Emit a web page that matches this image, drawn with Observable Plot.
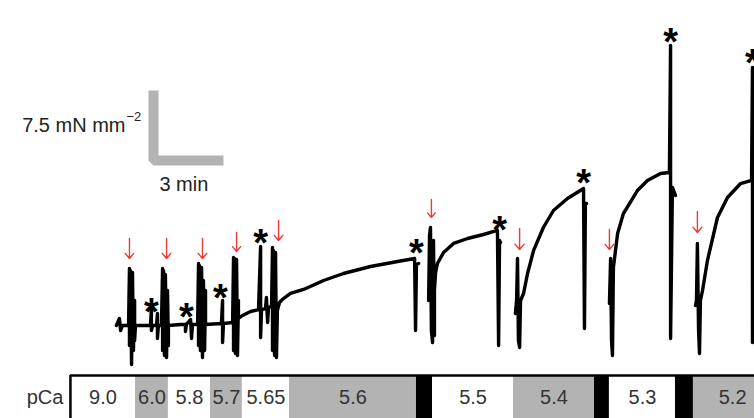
<!DOCTYPE html>
<html>
<head>
<meta charset="utf-8">
<script src="https://cdn.jsdelivr.net/npm/d3@7"></script>
<script src="https://cdn.jsdelivr.net/npm/@observablehq/plot@0.6"></script>
<style>
  html, body { margin: 0; padding: 0; background: #fff; overflow: hidden; }
  svg { display: block; }
</style>
</head>
<body>
<div id="chart"></div>
<script>
// ---- Force trace (time in min, force in mN mm^-2); NaN = gap in recording ----
const traceT = [
  -0.09, 0.04, 0.09, 0.17, 0.43,
  0.47, 0.47, 0.51, 0.56, 0.6, 0.64, 0.69, 0.69, 0.73,
  1.37, 1.41, 1.41, 1.46, 1.63, 1.67, 1.67, 1.71,
  1.84, 1.89, 1.89, 1.93, 1.97, 2.01, 2.06, 2.1, 2.14, 2.14,
  2.66, 2.87, 2.87, 2.91, 3.09, 3.13, 3.17,
  3.39, 3.43, 3.43, 3.47, 3.51, 3.56, 3.6, 3.64, 3.69, 3.73, 3.73,
  4.41, 4.46, 4.46, 4.5,
  4.89, 4.93, 4.93, 4.97, 5.01, 5.06, 5.1, 5.14, 5.14,
  5.31, 5.66, 6.0, 6.09, 6.09, 6.13, 6.3, 6.34, 6.39, 6.43,
  6.56, 6.6, 6.6, 6.64, 6.69, 6.73, 6.77, 6.81, 6.9,
  7.07, 7.37, 7.93, 8.79, 9.64, 10.8, 11.96, 12.69, 12.73, 12.77, 12.86,
  NaN,
  13.29, 13.33, 13.37, 13.41, 13.46, 13.5, 13.54, 13.54, 13.59, 13.67, 13.93, 14.36, 14.96, 15.64, 16.24, 16.29, 16.33, 16.37,
  NaN,
  17.01, 17.06, 17.1, 17.14, 17.19, 17.23, 17.36, 17.53, 17.79, 18.21, 18.64, 19.24, 19.93, 19.97, 20.01, 20.06,
  NaN,
  21.04, 21.09, 21.13, 21.17, 21.21, 21.39, 21.64, 22.24, 22.67, 23.23, 23.61, 23.66, 23.66, 23.74, 23.87,
  NaN,
  24.73, 24.77, 24.81, 24.86, 24.9, 24.94, 25.03, 25.24, 25.67, 26.1, 26.66, 27.13, 27.17, 27.17, 27.21, 27.34
];
const traceF = [
  0, 0.75, -0.54, 0, 0,
  6.11, -2.14, 5.89, -4.18, 5.68, -2.68, 2.68, -1.61, 0,
  0, 1.82, -0.54, 0, 0, 1.29, -1.39, 0,
  0, 6.11, -2.68, 5.89, -3.21, 5.46, -3.43, 3.75, -2.14, 0,
  0.11, 0.11, -0.64, 0.11, 0.64, -1.39, 0.11,
  0.11, 6.64, -2.14, 6.43, -2.68, 6.21, -3.43, 4.82, -2.68, 3.75, 0.11,
  0.21, 2.68, -1.82, 0.21,
  0.32, 7.29, -2.68, 7.18, -3.0, 7.07, -3.21, 2.68, 0.75,
  1.07, 1.5, 1.71, 8.46, -1.29, 1.71, 1.82, 3.0, 0.32, 1.93,
  2.04, 8.36, -2.68, 8.04, -3.21, 7.82, -3.43, 1.61, 2.46,
  2.89, 3.43, 3.86, 4.82, 5.57, 6.32, 6.86, 7.18, -0.54, 6.54, 6.64,
  NaN,
  2.68, 9.64, 10.5, -0.54, -1.82, 9.11, -1.07, 3.75, 5.68, 6.64, 7.82, 8.79, 9.32, 9.75, 10.18, -2.14, 9.11, 8.89,
  NaN,
  1.29, 2.68, 7.18, -1.61, -2.36, 2.68, 3.43, 5.57, 8.04, 10.5, 12.32, 13.61, 14.68, -0.32, 13.07, 13.07,
  NaN,
  2.36, 7.18, -1.61, -3.21, 6.21, 9.86, 12.0, 14.46, 15.54, 16.29, 16.39, 30.0, -1.39, 14.79, 13.93,
  NaN,
  2.14, 2.68, 8.79, -0.54, -3.0, 2.68, 3.75, 6.96, 11.57, 13.71, 15.21, 15.54, 27.64, -1.82, 15.0, 13.93
];

// ---- Solution changes (red arrows) ----
const arrowT    = [0.47, 2.06, 3.6, 5.06, 6.86, 13.41, 17.19, 21.04, 24.81];
const arrowTop  = [9.32, 9.32, 9.32, 9.96, 11.25, 13.5, 10.39, 10.29, 12.21];
const arrowTip  = [7.18, 7.18, 7.18, 7.93, 9.11, 11.57, 8.14, 8.14, 9.96];

// ---- Asterisks ----
const starT = [1.41, 2.91, 4.37, 6.09, 12.77, 16.33, 19.93, 23.66, 27.17];
const starF = [2.46, 1.93, 3.96, 9.86, 8.79, 11.25, 16.29, 31.39, 29.14];

// ---- pCa bar ----
const pcaLabels = ["9.0", "6.0", "5.8", "5.7", "5.65", "5.6", "", "5.5", "5.4", "", "5.3", "", "5.2"];
const pcaStart  = [-2.06, 0.73, 2.14, 3.94, 5.31, 7.33, 12.77, 13.46, 16.93, 20.4, 21.04, 23.87, 24.64];
const pcaEnd    = [0.73, 2.14, 3.94, 5.31, 7.33, 12.77, 13.46, 16.93, 20.4, 21.04, 23.87, 24.64, 28.0];

// ---- Scale bar ----
const scaleMin = 3;      // min
const scaleForce = 7.5;  // mN mm^-2

const FONT = "'Liberation Sans', Arial, Helvetica, sans-serif";
const GRAY = "#b3b3b3";
const RED = "#ec3b36";
const xDomain = [-5.057, 27.257];

const trace = traceT.map((t, i) => ({t, f: traceF[i]}));
const arrows = arrowT.map((t, i) => ({t, top: arrowTop[i], tip: arrowTip[i]}));
const stars = starT.map((t, i) => ({t, f: starF[i]}));

const sbT = 1.5, sbF = 17.68;
const scaleBar = [
  {t: sbT, f: sbF + scaleForce},
  {t: sbT, f: sbF},
  {t: sbT + scaleMin, f: sbF}
];

const main = Plot.plot({
  width: 754,
  height: 374,
  margin: 0,
  x: {domain: xDomain, axis: null},
  y: {domain: [-5.25, 34.82], axis: null},
  style: {fontFamily: FONT, background: "#fff", overflow: "visible"},
  marks: [
    Plot.line(scaleBar, {x: "t", y: "f", stroke: GRAY, strokeWidth: 10, strokeLinejoin: "miter", strokeLinecap: "butt"}),
    Plot.text([0], {x: sbT, y: sbF + scaleForce / 2, text: () => "7.5 mN mm", textAnchor: "end", dx: -28, fontSize: 20, fill: "#222"}),
    Plot.text([0], {x: sbT, y: sbF + scaleForce / 2, text: () => "\u22122", textAnchor: "start", dx: -27, dy: -9, fontSize: 13, fill: "#222"}),
    Plot.text([0], {x: sbT + scaleMin / 2 - 0.2, y: sbF, text: () => "3 min", dy: 24, fontSize: 20, fill: "#222"}),
    Plot.line(trace, {x: "t", y: "f", stroke: "#000", strokeWidth: 3.4, strokeLinejoin: "round"}),
    Plot.arrow(arrows, {x1: "t", y1: "top", x2: "t", y2: "tip", stroke: RED, strokeWidth: 1.4, headLength: 8, headAngle: 80}),
    Plot.text(stars, {x: "t", y: "f", text: () => "*", fontSize: 38, fontWeight: "bold", dy: 10, fill: "#000"})
  ]
});

let labeledIdx = 0;
const pca = pcaLabels.map((label, i) => {
  let fill;
  if (label === "") fill = "#000";
  else { fill = (labeledIdx % 2 === 0) ? "#fff" : GRAY; labeledIdx++; }
  return {label, x1: pcaStart[i], x2: pcaEnd[i], fill};
});

const bar = Plot.plot({
  width: 754,
  height: 44,
  margin: 0,
  x: {domain: xDomain, axis: null},
  y: {domain: [0, 1], range: [1, 60], axis: null},
  style: {fontFamily: FONT, background: "#fff", overflow: "hidden"},
  marks: [
    Plot.rect(pca, {x1: "x1", x2: "x2", y1: 0, y2: 1, fill: "fill"}),
    Plot.ruleY([0], {x1: pcaStart[0], x2: pcaEnd[pcaEnd.length - 1], stroke: "#000", strokeWidth: 2.5}),
    Plot.ruleX([pcaStart[0]], {y1: 0, y2: 1, stroke: "#000", strokeWidth: 2.5}),
    Plot.text(pca.filter(d => d.label !== ""), {x: d => (d.x1 + d.x2) / 2, y: 0.38, text: "label", fontSize: 20, fill: "#333"}),
    Plot.text([0], {x: pcaStart[0], y: 0.38, text: () => "pCa", textAnchor: "end", dx: -7, fontSize: 20, fill: "#333"})
  ]
});

const root = document.getElementById("chart");
root.appendChild(main);
root.appendChild(bar);
</script>
</body>
</html>
